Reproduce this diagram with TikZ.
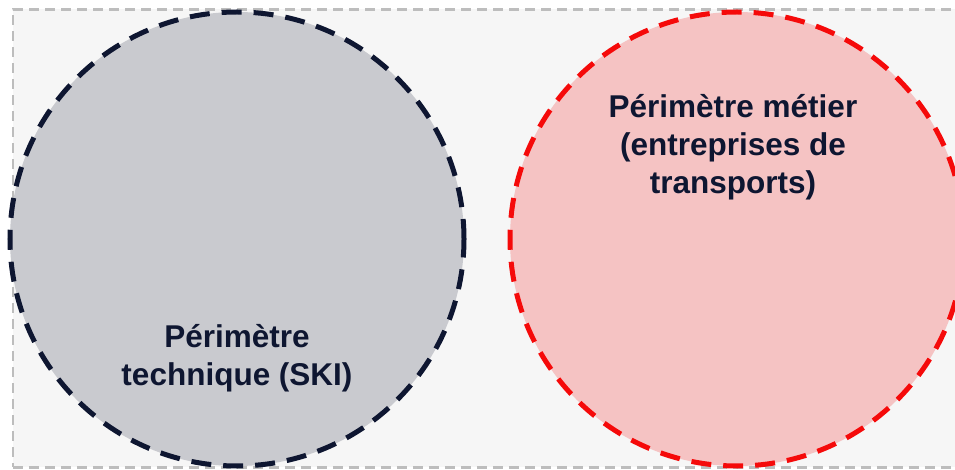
\documentclass[tikz,border=0pt]{standalone}
\usepackage{fontspec}
\setmainfont{Liberation Sans}
\definecolor{navy}{HTML}{0E1631}
\definecolor{techfill}{HTML}{C9CACF}
\definecolor{bizfill}{HTML}{F5C3C3}
\definecolor{bizline}{HTML}{F50A0A}
\definecolor{frameline}{HTML}{BDBDBD}
\definecolor{panel}{HTML}{F6F6F6}
\begin{document}
\begin{tikzpicture}[x=1pt,y=-1pt,
  perimeter/.style={circle,minimum size=454pt,inner sep=0pt,line width=5pt,dash pattern=on 20pt off 12pt},
  label/.style={font=\bfseries\fontsize{31.5}{38}\selectfont,text=navy,align=center}]
  \useasboundingbox (0,0) rectangle (955,470);
  \clip (0,0) rectangle (955,470);
  \fill[white] (0,0) rectangle (955,470);
  % outer dashed frame
  \node[draw=frameline,fill=panel,line width=2.6pt,dash pattern=on 10pt off 6pt,
        minimum width=960pt,minimum height=458pt,inner sep=0pt,anchor=north west] (frame) at (11.5,8) {};
  % the two scopes
  \node[perimeter,draw=navy,fill=techfill] (tech) at (237,239) {};
  \node[perimeter,draw=bizline,fill=bizfill] (biz) at (737,239) {};
  \node[label] (techtxt) at (237,358) {Périmètre\\technique (SKI)};
  \node[label] (biztxt) at (733,147) {Périmètre métier\\(entreprises de\\transports)};
\end{tikzpicture}
\end{document}
